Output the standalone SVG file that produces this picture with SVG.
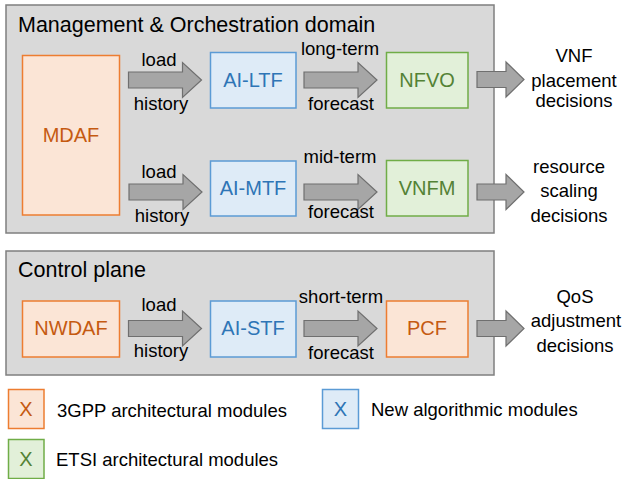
<svg xmlns="http://www.w3.org/2000/svg" width="624" height="479" viewBox="0 0 624 479">
<defs>
<style>
text{font-family:"Liberation Sans",Arial,sans-serif;fill:#000}
.panel{fill:#d9d9d9;stroke:#7f7f7f;stroke-width:1.5}
.org{fill:#fbe5d6;stroke:#ed7d31;stroke-width:1.5}
.blu{fill:#deebf7;stroke:#5b9bd5;stroke-width:1.5}
.grn{fill:#e2f0d9;stroke:#70ad47;stroke-width:1.5}
.to{fill:#c55a11}
.tb{fill:#2e75b6}
.tg{fill:#548235}
.nl{font-size:20px;text-anchor:middle}
.lb{font-size:18.5px;text-anchor:middle}
.lg{font-size:18.5px}
.arr{fill:#a6a6a6;stroke:#6f6f6f;stroke-width:1.2}
</style>
<path id="ar" d="M0,-8 L54,-8 L54,-17.5 L73,0 L54,17.5 L54,8 L0,8 Z"/>
<path id="ars" d="M0,-8 L29,-8 L29,-17.5 L47,0 L29,17.5 L29,8 L0,8 Z"/>
</defs>

<g id="panel-mano">
<rect class="panel" x="6" y="5" width="488" height="228"/>
<text x="18" y="32" style="font-size:21.5px">Management &amp; Orchestration domain</text>
</g>
<g id="panel-cp">
<rect class="panel" x="6" y="251" width="488" height="124"/>
<text x="18" y="277" style="font-size:21.5px">Control plane</text>
</g>

<g id="MDAF"><rect class="org" x="22.5" y="55.5" width="97" height="159.5"/><text class="nl to" x="71" y="142">MDAF</text></g>
<g id="AI-LTF"><rect class="blu" x="210.5" y="52.5" width="85.5" height="55.5"/><text class="nl tb" x="253" y="87">AI-LTF</text></g>
<g id="NFVO"><rect class="grn" x="386.5" y="52.5" width="81.5" height="55.5"/><text class="nl tg" x="427" y="87">NFVO</text></g>
<g id="AI-MTF"><rect class="blu" x="210.5" y="161" width="85.5" height="55"/><text class="nl tb" x="253" y="195">AI-MTF</text></g>
<g id="VNFM"><rect class="grn" x="386.5" y="160.5" width="81.5" height="55.5"/><text class="nl tg" x="427" y="195">VNFM</text></g>
<g id="NWDAF"><rect class="org" x="22.5" y="301" width="97" height="56"/><text class="nl to" x="71" y="335">NWDAF</text></g>
<g id="AI-STF"><rect class="blu" x="210.5" y="301" width="85.5" height="56"/><text class="nl tb" x="253" y="335">AI-STF</text></g>
<g id="PCF"><rect class="org" x="386.5" y="301" width="81.5" height="56"/><text class="nl to" x="427" y="335">PCF</text></g>

<g id="connectors">
<use href="#ar" class="arr" transform="translate(128.5,80)"/>
<use href="#ar" class="arr" transform="translate(304,80)"/>
<use href="#ars" class="arr" transform="translate(477,79.5)"/>
<use href="#ar" class="arr" transform="translate(129,192)"/>
<use href="#ar" class="arr" transform="translate(304,192)"/>
<use href="#ars" class="arr" transform="translate(477,192)"/>
<use href="#ar" class="arr" transform="translate(128.5,328.5)"/>
<use href="#ar" class="arr" transform="translate(304,328.5)"/>
<use href="#ars" class="arr" transform="translate(477,328.5)"/>

<text class="lb" x="159" y="66">load</text>
<text class="lb" x="161" y="110">history</text>
<text class="lb" x="340" y="55">long-term</text>
<text class="lb" x="341" y="110">forecast</text>
<text class="lb" x="159" y="178">load</text>
<text class="lb" x="162" y="221.5">history</text>
<text class="lb" x="340" y="163">mid-term</text>
<text class="lb" x="341" y="218">forecast</text>
<text class="lb" x="159" y="310.5">load</text>
<text class="lb" x="161" y="356.5">history</text>
<text class="lb" x="341" y="303">short-term</text>
<text class="lb" x="341" y="359">forecast</text>

<text class="lb" x="574" y="61.5">VNF</text>
<text class="lb" x="574" y="87">placement</text>
<text class="lb" x="574" y="107">decisions</text>
<text class="lb" x="569" y="173">resource</text>
<text class="lb" x="569" y="197">scaling</text>
<text class="lb" x="569" y="221.5">decisions</text>
<text class="lb" x="575" y="303">QoS</text>
<text class="lb" x="576" y="327">adjustment</text>
<text class="lb" x="575" y="351.5">decisions</text>
</g>

<g id="legend-3gpp"><rect class="org" x="8.5" y="389.5" width="35.5" height="39"/><text class="nl to" x="26" y="416">X</text><text class="lg" x="57" y="416.5">3GPP architectural modules</text></g>
<g id="legend-new"><rect class="blu" x="322.5" y="389.5" width="36" height="39"/><text class="nl tb" x="340.5" y="416">X</text><text class="lg" x="371" y="415.5">New algorithmic modules</text></g>
<g id="legend-etsi"><rect class="grn" x="8.5" y="439.5" width="35.5" height="39"/><text class="nl tg" x="26" y="466">X</text><text class="lg" x="56" y="465.5">ETSI architectural modules</text></g>
</svg>
